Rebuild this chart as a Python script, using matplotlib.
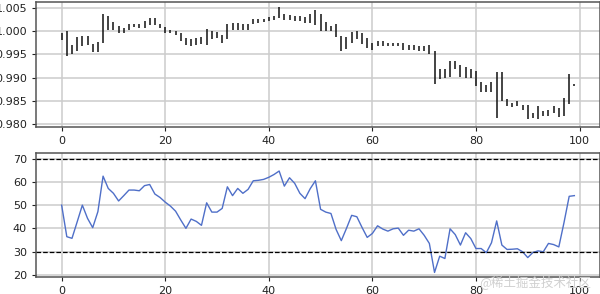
import numpy as np
import matplotlib
matplotlib.use('Agg')
import matplotlib.pyplot as plt

# Price bars (high / low), index 0..99
high = [0.9996, 1.0000, 0.9969, 0.9988, 0.9989, 0.9989, 0.9972, 0.9977, 1.0037, 1.0033,
        1.0020, 1.0010, 1.0007, 1.0014, 1.0014, 1.0014, 1.0021, 1.0028, 1.0027, 1.0014,
        1.0009, 1.0003, 1.0000, 0.9995, 0.9985, 0.9982, 0.9984, 0.9986, 1.0005, 1.0000,
        0.9998, 0.9991, 1.0014, 1.0017, 1.0016, 1.0014, 1.0014, 1.0026, 1.0026, 1.0026,
        1.0030, 1.0033, 1.0051, 1.0037, 1.0035, 1.0033, 1.0033, 1.0030, 1.0037, 1.0044,
        1.0037, 1.0019, 1.0010, 1.0014, 0.9989, 0.9986, 0.9998, 1.0000, 0.9995, 0.9984,
        0.9974, 0.9979, 0.9979, 0.9975, 0.9974, 0.9975, 0.9975, 0.9970, 0.9970, 0.9968,
        0.9968, 0.9970, 0.9956, 0.9918, 0.9918, 0.9936, 0.9936, 0.9926, 0.9922, 0.9918,
        0.9914, 0.9890, 0.9884, 0.9891, 0.9912, 0.9912, 0.9855, 0.9846, 0.9849, 0.9842,
        0.9841, 0.9823, 0.9839, 0.9828, 0.9830, 0.9839, 0.9834, 0.9856, 0.9907, 0.9886]
low = [0.9981, 0.9946, 0.9951, 0.9956, 0.9967, 0.9969, 0.9955, 0.9955, 0.9974, 1.0002,
       1.0003, 0.9995, 0.9995, 1.0003, 1.0009, 1.0006, 1.0007, 1.0012, 1.0012, 1.0007,
       0.9996, 0.9996, 0.9991, 0.9978, 0.9970, 0.9967, 0.9970, 0.9972, 0.9970, 0.9982,
       0.9984, 0.9974, 0.9983, 1.0002, 1.0002, 1.0003, 1.0003, 1.0014, 1.0017, 1.0019,
       1.0021, 1.0024, 1.0028, 1.0024, 1.0024, 1.0022, 1.0021, 1.0016, 1.0016, 1.0012,
       1.0000, 1.0000, 1.0000, 0.9988, 0.9956, 0.9961, 0.9975, 0.9982, 0.9972, 0.9963,
       0.9960, 0.9967, 0.9967, 0.9967, 0.9968, 0.9968, 0.9960, 0.9960, 0.9960, 0.9958,
       0.9956, 0.9951, 0.9886, 0.9897, 0.9898, 0.9901, 0.9919, 0.9901, 0.9900, 0.9900,
       0.9881, 0.9869, 0.9870, 0.9869, 0.9814, 0.9849, 0.9839, 0.9837, 0.9839, 0.9830,
       0.9811, 0.9813, 0.9811, 0.9818, 0.9818, 0.9825, 0.9816, 0.9818, 0.9844, 0.9881]

# RSI values
rsi = [50.0, 36.4, 35.7, 42.8, 50.0, 44.3, 40.3, 47.2, 62.5, 57.2,
       55.1, 51.8, 54.1, 56.5, 56.5, 56.2, 58.4, 58.9, 54.8, 53.3,
       51.3, 49.6, 47.4, 43.6, 40.0, 44.0, 43.0, 41.3, 51.0, 47.0,
       47.0, 48.6, 57.9, 54.1, 57.2, 55.1, 56.8, 60.5, 60.7, 61.1,
       62.0, 63.2, 64.7, 58.2, 61.8, 59.4, 55.1, 52.8, 57.1, 60.5,
       48.2, 47.0, 46.4, 39.5, 34.7, 40.0, 45.6, 45.0, 40.4, 36.1,
       37.8, 41.1, 39.7, 38.8, 39.8, 40.1, 37.0, 39.2, 38.8, 39.8,
       37.0, 33.5, 21.0, 28.0, 27.0, 39.8, 37.3, 32.8, 38.1, 35.6,
       31.3, 31.3, 29.5, 33.8, 43.2, 32.8, 30.9, 31.0, 31.2, 29.9,
       27.4, 29.6, 30.3, 29.9, 33.5, 33.0, 32.0, 42.5, 53.8, 54.1]

x = np.arange(len(high))

fig = plt.figure(figsize=(6, 2.94), dpi=100)
ax1 = fig.add_axes([0.06, 0.5697, 0.94, 0.4233])
ax2 = fig.add_axes([0.06, 0.0568, 0.94, 0.4238])

ax1.vlines(x, low, high, color='#111111', linewidth=1.1)
ax1.set_ylim(0.9795, 1.0062)
ax1.set_yticks([0.980, 0.985, 0.990, 0.995, 1.000, 1.005])

ax2.plot(x, rsi, color='#4f6fc8', linewidth=1.0)
ax2.axhline(70, color='black', linestyle='--', linewidth=0.9)
ax2.axhline(30, color='black', linestyle='--', linewidth=0.9)
ax2.set_ylim(18.9, 72.6)
ax2.set_yticks([20, 30, 40, 50, 60, 70])

for ax in (ax1, ax2):
    ax.set_xlim(-4.95, 103.95)
    ax.set_xticks([0, 20, 40, 60, 80, 100])
    ax.grid(True, color='#cccccc', linewidth=1.1)
    ax.set_axisbelow(True)
    ax.tick_params(labelsize=8, length=3, width=0.8, colors='#222222')
    for s in ax.spines.values():
        s.set_color('#555555')
        s.set_linewidth(1.1)

fig.text(0.985, 0.04, '@稀土掘金技术社区', ha='right', va='center', fontsize=9,
         color='#d0d0d0', family=['Noto Sans CJK SC', 'DejaVu Sans'])

fig.savefig('out.png', dpi=100)
